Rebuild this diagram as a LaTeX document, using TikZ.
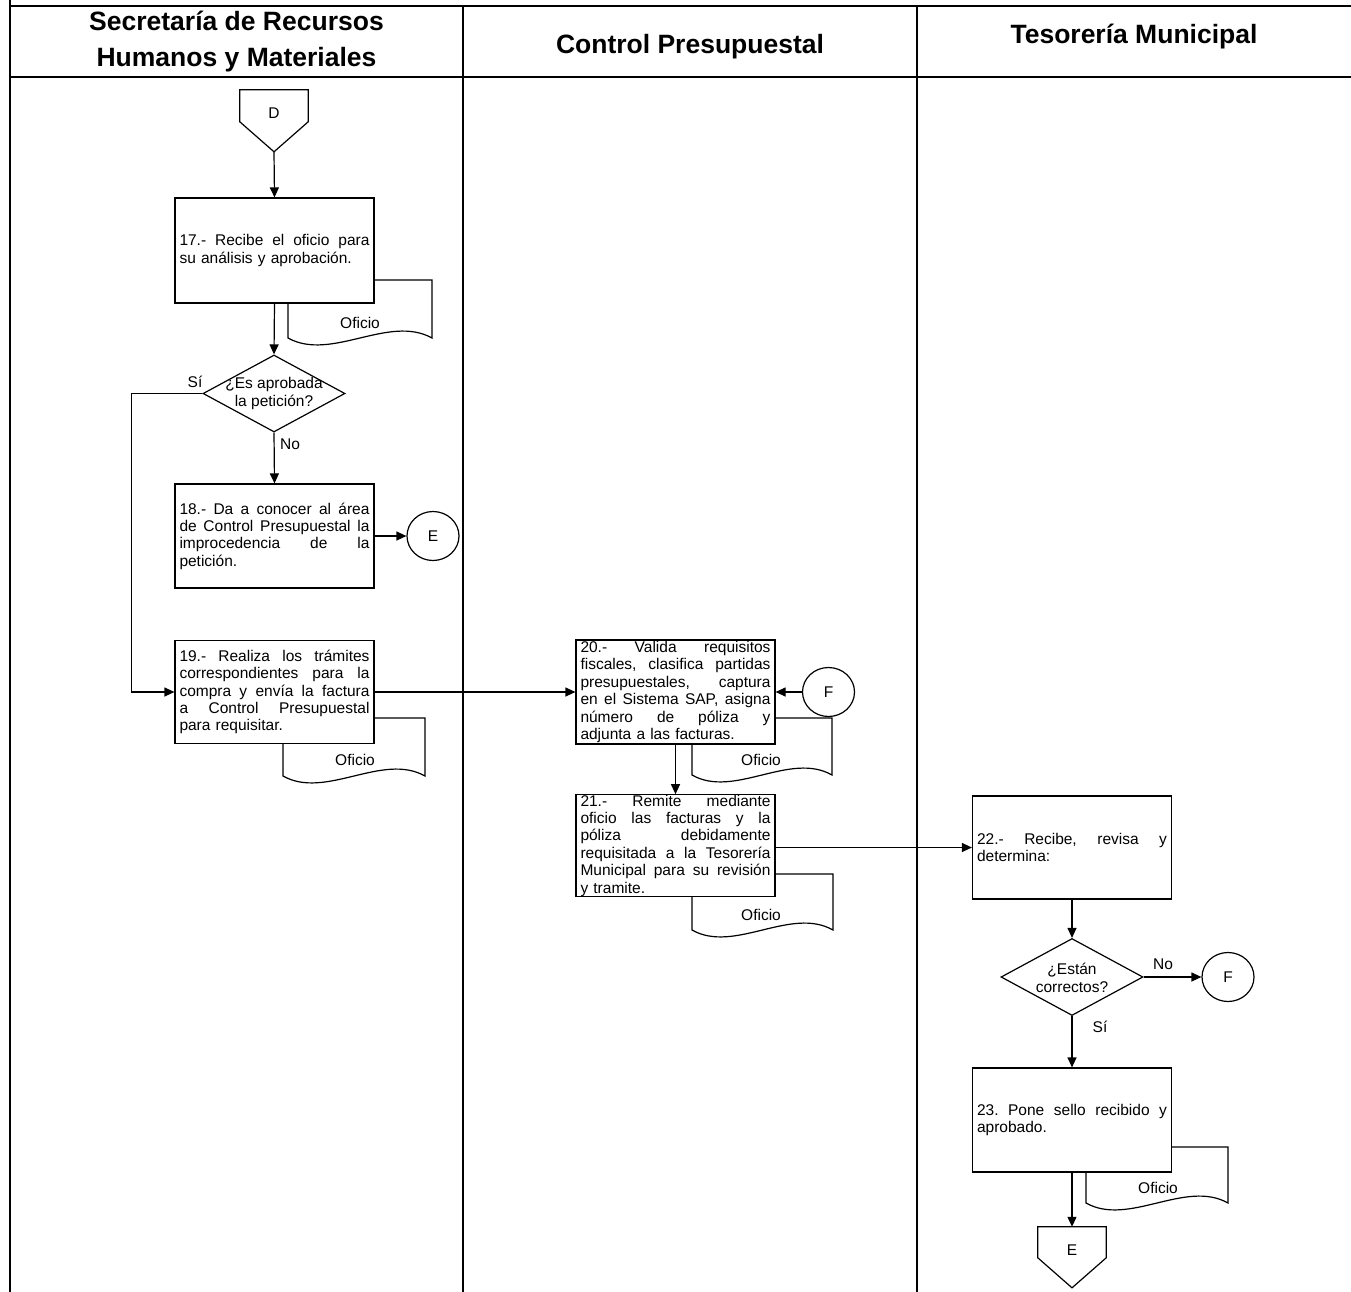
\documentclass[tikz,border=0pt]{standalone}
\usepackage{fontspec}
\setmainfont{Liberation Sans}
\usetikzlibrary{arrows.meta,shapes.geometric,calc}
\newcommand\jl[1]{{\frenchspacing\spaceskip=0.28em plus 1fil\makebox[190pt][s]{#1}}}
\newcommand\bxfont{\fontsize{15.5}{17.4}\selectfont}
\newcommand\docsh[4]{\draw[shp, fill=white] (#3,#4) -- (#3,#2) -- (#1,#2) -- (#1,#4) .. controls ({#1+0.3*(#3-#1)},{#4+24}) and ({#3-0.3*(#3-#1)},{#4-24}) .. (#3,#4) -- cycle;}
\begin{document}
\begin{tikzpicture}[x=1pt,y=-1pt,
  lane/.style={line width=2pt},
  shp/.style={line width=1.2pt},
  box/.style={shp, draw, fill=white, text width=190pt, inner xsep=4.5pt, inner ysep=0pt, align=left, font=\bxfont, minimum width=199pt, execute at begin node={\parindent0pt}},
  dec/.style={shp, draw, diamond, minimum width=142pt, minimum height=77pt, inner sep=0pt},
  con/.style={shp, draw, ellipse, minimum width=52pt, minimum height=49pt, inner sep=0pt, font=\bxfont},
  off/.style={minimum width=68pt, minimum height=46pt, inner sep=0pt, font=\bxfont},
  txt/.style={font=\bxfont, inner sep=0pt, align=center},
  hdr/.style={font=\fontsize{26.5}{36}\selectfont\bfseries, align=center, inner sep=0pt},
  arr/.style={line width=1.2pt, -{Triangle[length=10pt,width=9pt]}},
]
\useasboundingbox[fill=white] (0,0) rectangle (1351,1292);

% swimlane table
\draw[lane] (10,0) -- (10,1292);
\draw[lane] (10,6) -- (1351,6);
\draw[lane] (10,77) -- (1351,77);
\draw[lane] (463,6) -- (463,1292);
\draw[lane] (917,6) -- (917,1292);

\node[hdr] (h1) at (236.5,42) {Secretaría de Recursos\\Humanos y Materiales};
\node[hdr] (h2) at (690,46.5) {Control Presupuestal};
\node[hdr] (h3) at (1134,36.5) {Tesorería Municipal};

% documents (behind boxes)
\docsh{288}{280}{432}{338}
\docsh{283}{718}{425}{776}
\docsh{692}{718}{832}{775}
\docsh{692}{874}{833}{930}
\docsh{1086}{1147}{1228}{1203}
\node[txt] (o17) at (360,323) {Oficio};
\node[txt] (o19) at (355,760) {Oficio};
\node[txt] (o20) at (761,760) {Oficio};
\node[txt] (o21) at (761,915) {Oficio};
\node[txt] (o23) at (1158,1188) {Oficio};

% off-page connectors
\node[off] (D) at (274,113) {D};
\draw[shp] (D.north west) -- (D.north east) -- ($(D.north east)+(0,32)$) -- ($(D.north)+(0,62)$) -- ($(D.north west)+(0,32)$) -- cycle;
\coordinate (Dtip) at ($(D.north)+(0,62)$);
\node[off] (E2) at (1072,1250) {E};
\draw[shp] (E2.north west) -- (E2.north east) -- ($(E2.north east)+(0,31)$) -- ($(E2.north)+(0,61)$) -- ($(E2.north west)+(0,31)$) -- cycle;

% process boxes
\node[box, minimum height=105pt] (b17) at (274.5,250.5) {\jl{17.- Recibe el oficio para}\\su análisis y aprobación.};
\node[box, minimum height=104pt] (b18) at (274.5,536) {\jl{18.- Da a conocer al área}\\\jl{de Control Presupuestal la}\\\jl{improcedencia de la}\\petición.};
\node[box, minimum height=103pt] (b19) at (274.5,692) {\jl{19.- Realiza los trámites}\\\jl{correspondientes para la}\\\jl{compra y envía la factura}\\\jl{a Control Presupuestal}\\para requisitar.};
\node[box, minimum height=104pt] (b20) at (675.5,692) {\jl{20.- Valida requisitos}\\\jl{fiscales, clasifica partidas}\\\jl{presupuestales, captura}\\\jl{en el Sistema SAP, asigna}\\\jl{número de póliza y}\\adjunta a las facturas.};
\node[box, minimum height=99pt] (b21) at (675.5,845.5) {\jl{21.- Remite mediante}\\\jl{oficio las facturas y la}\\\jl{póliza debidamente}\\\jl{requisitada a la Tesorería}\\\jl{Municipal para su revisión}\\y tramite.};
\node[box, minimum height=103pt] (b22) at (1072,847.5) {\jl{22.- Recibe, revisa y}\\determina:};
\node[box, minimum height=104pt] (b23) at (1072,1120) {\jl{23. Pone sello recibido y}\\aprobado.};

% decisions
\node[dec] (q1) at (274,393.5) {};
\node[txt] (q1t) at (274,393.5) {¿Es aprobada\\la petición?};
\node[dec] (q2) at (1072,977) {};
\node[txt] (q2t) at (1072,978) {¿Están\\correctos?};

% on-page connectors
\node[con] (E1) at (433,536) {E};
\node[con] (F1) at (828.5,692) {F};
\node[con] (F2) at (1228,977) {F};

% labels
\node[txt] (l1) at (195,382) {Sí};
\node[txt] (l2) at (290,444) {No};
\node[txt] (l3) at (1163,964) {No};
\node[txt] (l4) at (1100,1027) {Sí};

% connectors
\draw[arr] (Dtip) -- (b17.north);
\draw[arr] (b17.south) -- (q1.north);
\draw[arr] (q1.west) -- ++(-71,0) |- (b19.west);
\draw[arr] (q1.south) -- (b18.north);
\draw[arr] (b18.east) -- (E1.west);
\draw[arr] (b19.east) -- (b20.west);
\draw[arr] (F1.west) -- (b20.east);
\draw[arr] (b20.south) -- (b21.north);
\draw[arr] (b21.east |- b22.west) -- (b22.west);
\draw[arr] (b22.south) -- (q2.north);
\draw[arr] (q2.east) -- (F2.west);
\draw[arr] (q2.south) -- (b23.north);
\draw[arr] (b23.south) -- (E2.north);
\end{tikzpicture}
\end{document}
